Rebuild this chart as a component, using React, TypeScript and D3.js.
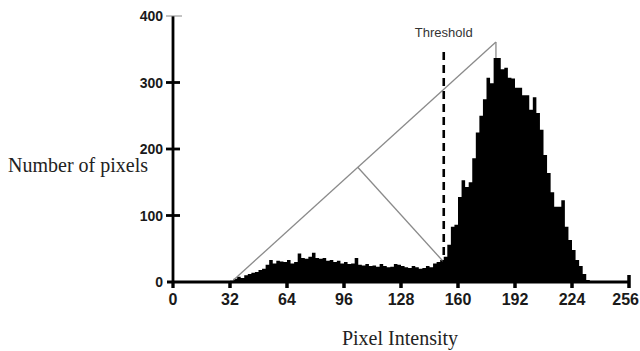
import * as d3 from "d3";

const W = 640;
const H = 351;

// histogram: one bar per 2 intensity levels, starting at 32
const BIN_START = 32;
const BIN_WIDTH = 2;
const counts = [
  2, 5, 8, 6, 10, 12, 14, 15, 18, 20,
  26, 33, 28, 32, 31, 30, 33, 28, 30, 43,
  36, 35, 38, 44, 36, 35, 36, 32, 33, 30,
  32, 28, 30, 27, 28, 36, 26, 25, 27, 24,
  25, 23, 27, 24, 22, 23, 27, 26, 24, 22,
  21, 24, 22, 20, 21, 24, 22, 28, 30, 33,
  38, 56, 83, 86, 128, 153, 143, 150, 186, 225,
  250, 275, 307, 299, 337, 337, 320, 322, 307, 306,
  292, 292, 281, 281, 259, 278, 254, 229, 191, 164,
  135, 113, 113, 123, 83, 63, 48, 33, 24, 12,
  3,
];

const xTicks = [0, 32, 64, 96, 128, 160, 192, 224, 256];
const yTicks = [0, 100, 200, 300, 400];

// triangle method geometry (values in data units)
const triBase = { i: 34, c: 3 };
const triApex = { i: 181.3, c: 361 };
const histMax = 337;
const threshold = 152;
const countAtThreshold = 30;

export default function App() {
  const x = d3.scaleLinear().domain([0, 256]).range([173, 629]);
  const y = d3.scaleLinear().domain([0, 400]).range([282, 16]);

  const pts = counts.map((c, k) => ({ i: BIN_START + k * BIN_WIDTH, c }));
  pts.push({ i: BIN_START + counts.length * BIN_WIDTH, c: 0 });

  const area = d3
    .area<{ i: number; c: number }>()
    .x((d) => x(d.i))
    .y0(y(0))
    .y1((d) => y(d.c))
    .curve(d3.curveStepAfter);

  // foot of the perpendicular from the threshold point to the hypotenuse
  const ax = x(triBase.i), ay = y(triBase.c);
  const bx = x(triApex.i), by = y(triApex.c);
  const px = x(threshold), py = y(countAtThreshold);
  const dx = bx - ax, dy = by - ay;
  const t = ((px - ax) * dx + (py - ay) * dy) / (dx * dx + dy * dy);
  const fx = ax + t * dx, fy = ay + t * dy;

  const lineGrey = "#8a8a8a";

  return (
    <svg
      width={W}
      height={H}
      style={{ position: "absolute", left: 0, top: 0, background: "#fff" }}
    >
      {/* histogram */}
      <path d={area(pts) || ""} fill="#000" />

      {/* triangle */}
      <line x1={ax} y1={ay} x2={bx} y2={by} stroke={lineGrey} strokeWidth={1.3} />
      <line x1={bx} y1={by} x2={bx} y2={y(histMax)} stroke={lineGrey} strokeWidth={1.3} />
      <line x1={px} y1={py} x2={fx} y2={fy} stroke={lineGrey} strokeWidth={1.3} />

      {/* threshold */}
      <line
        x1={x(threshold)}
        x2={x(threshold)}
        y1={52}
        y2={y(0)}
        stroke="#000"
        strokeWidth={2.6}
        strokeDasharray="8,5"
      />
      <text
        x={x(threshold)}
        y={37}
        textAnchor="middle"
        fontFamily="Liberation Sans, Arial, sans-serif"
        fontSize={13}
        fill="#333"
      >
        Threshold
      </text>

      {/* y axis */}
      <line x1={173} x2={173} y1={y(400)} y2={288} stroke="#000" strokeWidth={2.8} />
      {yTicks.map((t) => (
        <g key={t}>
          {t > 0 && (
            <line
              x1={166}
              x2={t === 400 ? 182 : 180}
              y1={y(t)}
              y2={y(t)}
              stroke={t === 400 ? "#888" : "#000"}
              strokeWidth={t === 400 ? 1 : 2.8}
            />
          )}
          <text
            x={163}
            y={y(t)}
            dy="0.36em"
            textAnchor="end"
            fontFamily="Liberation Sans, Arial, sans-serif"
            fontWeight="bold"
            fontSize={14}
            fill="#1a1a1a"
          >
            {t}
          </text>
        </g>
      ))}

      {/* x axis */}
      <line x1={167} x2={x(256)} y1={y(0)} y2={y(0)} stroke="#000" strokeWidth={3} />
      {xTicks.map((t, k) => {
        const last = k === xTicks.length - 1;
        return (
          <g key={t}>
            <line
              x1={x(t)}
              x2={x(t)}
              y1={last ? 275 : y(0)}
              y2={288}
              stroke="#000"
              strokeWidth={t === 0 ? 2.8 : 3.5}
            />
            <text
              x={last ? W - 1 : x(t)}
              y={305}
              textAnchor={last ? "end" : "middle"}
              fontFamily="Liberation Sans, Arial, sans-serif"
              fontWeight="bold"
              fontSize={16}
              fill="#1a1a1a"
            >
              {t}
            </text>
          </g>
        );
      })}

      {/* axis titles */}
      <text
        x={8}
        y={172}
        fontFamily="Liberation Serif, Times New Roman, serif"
        fontSize={20}
        fill="#222"
      >
        Number of pixels
      </text>
      <text
        x={400}
        y={345}
        textAnchor="middle"
        fontFamily="Liberation Serif, Times New Roman, serif"
        fontSize={20}
        fill="#222"
      >
        Pixel Intensity
      </text>
    </svg>
  );
}
